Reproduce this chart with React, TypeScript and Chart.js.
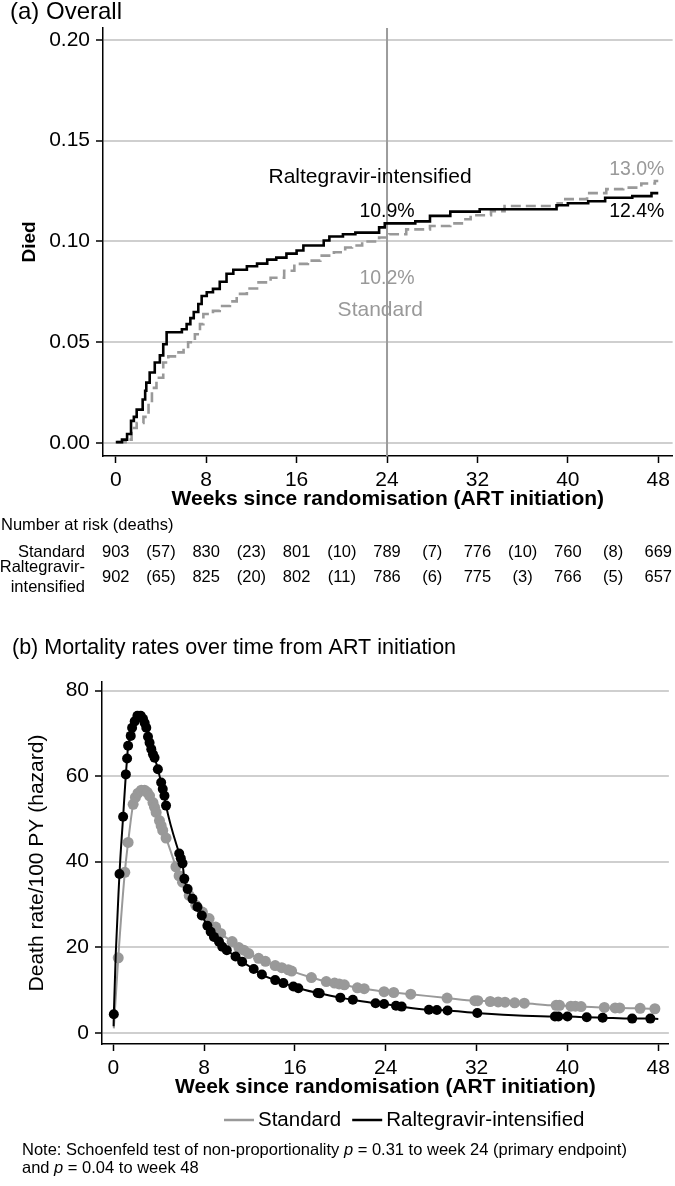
import React, { useEffect, useRef } from "react";
import { Chart, registerables } from "chart.js";

Chart.register(...registerables);

const FONT = "'Liberation Sans', Arial, Helvetica, sans-serif";
Chart.defaults.font.family = FONT;

// ---------- (a) Kaplan-Meier cumulative mortality ----------
const ralKmWeeks = [0, 0.55, 1.0, 1.35, 1.6, 1.85, 2.38, 2.6, 2.7, 3.0, 3.45, 3.9, 4.2, 4.5, 5.85, 6.27, 6.6, 6.9, 7.3, 7.6, 8.05, 8.6, 9.2, 9.8, 10.4, 11.6, 12.5, 13.4, 14.2, 15.1, 16.0, 16.6, 18.4, 18.9, 20.1, 21.2, 23.3, 23.8, 26.5, 27.8, 29.6, 32.2, 39.0, 40.0, 41.8, 43.3, 45.7, 47.4, 48];
const ralKmDied = [0.0005, 0.0017, 0.0045, 0.011, 0.013, 0.0166, 0.0216, 0.026, 0.03, 0.035, 0.04, 0.0435, 0.049, 0.055, 0.0565, 0.059, 0.062, 0.065, 0.069, 0.073, 0.0748, 0.0765, 0.08, 0.084, 0.086, 0.0877, 0.089, 0.091, 0.092, 0.094, 0.0955, 0.098, 0.1005, 0.1025, 0.1036, 0.1044, 0.107, 0.109, 0.11, 0.1127, 0.1148, 0.116, 0.118, 0.119, 0.12, 0.1217, 0.1225, 0.124, 0.124];
const stdKmWeeks = [0.1, 1.0, 1.4, 1.85, 2.45, 2.9, 3.2, 3.6, 4.2, 4.65, 5.4, 6.0, 6.4, 7.0, 7.45, 7.75, 8.6, 9.2, 10.1, 10.7, 11.6, 12.5, 13.7, 14.9, 15.8, 17.0, 18.1, 19.3, 20.3, 20.9, 21.8, 23.3, 24.2, 25.7, 27.8, 29.6, 30.8, 31.4, 33.2, 34.4, 39.1, 39.6, 41.7, 43.4, 44.9, 46.5, 47.7, 48];
const stdKmDied = [0.0005, 0.0017, 0.0075, 0.01, 0.013, 0.02, 0.0274, 0.0324, 0.04, 0.043, 0.045, 0.047, 0.05, 0.054, 0.059, 0.064, 0.0656, 0.068, 0.0703, 0.074, 0.0767, 0.0797, 0.082, 0.0855, 0.0889, 0.0905, 0.093, 0.0947, 0.097, 0.098, 0.1, 0.102, 0.1036, 0.106, 0.1077, 0.109, 0.111, 0.113, 0.115, 0.1176, 0.119, 0.121, 0.124, 0.126, 0.1267, 0.1288, 0.13, 0.13];
const kmYTicks = [0, 0.05, 0.1, 0.15, 0.2];
const weekTicks = [0, 8, 16, 24, 32, 40, 48];
const primaryEndpointWeek = 24;

// ---------- Number at risk table ----------
const riskWeeks = [0, 8, 16, 24, 32, 40, 48];
const stdAtRisk = [903, 830, 801, 789, 776, 760, 669];
const stdDeaths = [57, 23, 10, 7, 10, 8];
const ralAtRisk = [902, 825, 802, 786, 775, 766, 657];
const ralDeaths = [65, 20, 11, 6, 3, 5];

// ---------- (b) hazard (death rate / 100 PY) ----------
const stdHazWeeks = [0.44, 1.02, 1.31, 1.75, 1.95, 2.18, 2.47, 2.76, 3.0, 3.2, 3.5, 3.64, 3.78, 4.07, 4.22, 4.36, 4.65, 5.52, 5.8, 6.1, 6.69, 7.27, 7.85, 8.44, 9.02, 9.46, 10.47, 11.06, 11.5, 11.93, 12.8, 13.4, 14.26, 14.84, 15.42, 15.71, 17.45, 18.76, 19.49, 19.9, 20.35, 21.5, 22.1, 23.85, 24.7, 26.2, 29.4, 31.85, 32.1, 33.2, 33.9, 34.5, 35.35, 36.2, 39.0, 39.3, 40.3, 40.7, 41.2, 43.25, 44.2, 44.6, 46.4, 47.7];
const stdHazRates = [17.5, 37.5, 44.5, 53.4, 55.0, 56.0, 56.7, 56.7, 56.2, 55.4, 53.8, 52.7, 51.5, 49.6, 48.4, 47.3, 45.5, 38.8, 36.7, 35.2, 32.1, 29.8, 28.2, 26.7, 24.7, 23.2, 21.3, 19.9, 19.3, 18.5, 17.4, 16.7, 15.7, 15.2, 14.7, 14.4, 12.9, 11.95, 11.6, 11.4, 11.2, 10.5, 10.3, 9.6, 9.4, 9.0, 8.1, 7.5, 7.5, 7.3, 7.2, 7.15, 7.0, 6.9, 6.4, 6.4, 6.2, 6.2, 6.1, 5.9, 5.8, 5.8, 5.7, 5.6];
const ralHazWeeks = [0.05, 0.55, 0.87, 1.11, 1.22, 1.31, 1.54, 1.66, 1.89, 2.13, 2.42, 2.62, 2.77, 2.91, 3.06, 3.2, 3.35, 3.5, 3.64, 3.93, 4.22, 4.36, 4.51, 4.65, 5.81, 5.95, 6.1, 6.26, 6.55, 6.98, 7.42, 7.8, 8.29, 8.58, 8.87, 9.31, 9.6, 10.0, 10.77, 11.35, 12.37, 13.09, 14.26, 14.98, 15.86, 16.3, 18.0, 18.18, 20.0, 21.1, 23.1, 23.85, 24.9, 25.4, 27.8, 28.5, 29.44, 32.06, 38.9, 39.2, 40.0, 41.7, 43.1, 45.7, 47.3];
const ralHazRates = [4.3, 37.1, 50.5, 60.4, 64.1, 67.1, 69.4, 71.3, 72.8, 74.1, 74.1, 73.4, 72.4, 71.3, 69.2, 67.8, 66.3, 65.1, 64.3, 61.6, 58.5, 57.0, 55.4, 53.1, 41.9, 40.8, 39.6, 36.0, 33.6, 31.3, 29.4, 27.4, 25.0, 23.6, 22.4, 21.3, 20.1, 19.3, 17.8, 16.6, 14.9, 13.6, 12.3, 11.6, 10.8, 10.4, 9.3, 9.2, 8.2, 7.7, 6.9, 6.7, 6.3, 6.1, 5.35, 5.3, 5.2, 4.6, 3.8, 3.8, 3.8, 3.6, 3.5, 3.3, 3.3];
// smoothed curve end-points (no marker drawn): [start, end]
const stdLineEndWeeks = [0.05, 48];
const stdLineEndRates = [1.0, 5.55];
const ralLineEndWeeks = [0.03, 48];
const ralLineEndRates = [1.5, 3.2];
const hazYTicks = [0, 20, 40, 60, 80];

// ---------- styles ----------
const BLACK = "#000000";
const GRAY = "#999999";
const GRID = "#cfcfcf";
const REF_LINE = "#9c9c9c";

function stepValueAt(weeks: number[], vals: number[], t: number) {
  let v = 0;
  for (let i = 0; i < weeks.length; i++) if (weeks[i] <= t) v = vals[i];
  return v;
}
const pct = (v: number) => (v * 100).toFixed(1) + "%";

const kmLabels = [
  { text: "Raltegravir-intensified", week: 22.5, died: 0.1317, color: BLACK, size: 21 },
  { text: pct(stepValueAt(ralKmWeeks, ralKmDied, primaryEndpointWeek)), week: 24, died: 0.1149, color: BLACK, size: 19.5 },
  { text: pct(stepValueAt(stdKmWeeks, stdKmDied, 48)), week: 46.1, died: 0.1356, color: GRAY, size: 19.5 },
  { text: pct(stepValueAt(ralKmWeeks, ralKmDied, 48)), week: 46.1, died: 0.1149, color: BLACK, size: 19.5 },
  { text: pct(stepValueAt(stdKmWeeks, stdKmDied, primaryEndpointWeek)), week: 24, died: 0.0817, color: GRAY, size: 19.5 },
  { text: "Standard", week: 23.4, died: 0.0658, color: GRAY, size: 21 },
];

const xy = (w: number[], v: number[]) => w.map((x, i) => ({ x, y: v[i] }));

function hazSeries(endW: number[], endR: number[], w: number[], r: number[]) {
  return [{ x: endW[0], y: endR[0] }, ...xy(w, r), { x: endW[1], y: endR[1] }];
}

const kmPlugin = {
  id: "kmDecor",
  beforeDatasetsDraw(chart: any) {
    const { ctx, chartArea, scales } = chart;
    const px = scales.x.getPixelForValue(primaryEndpointWeek);
    ctx.save();
    ctx.strokeStyle = REF_LINE;
    ctx.lineWidth = 2;
    ctx.beginPath();
    ctx.moveTo(px, chartArea.top);
    ctx.lineTo(px, chartArea.bottom);
    ctx.stroke();
    ctx.restore();
  },
  afterDraw(chart: any) {
    const { ctx, scales } = chart;
    const x = scales.x;
    const y = scales.y;
    ctx.save();
    // panel title
    ctx.fillStyle = BLACK;
    ctx.textAlign = "left";
    ctx.textBaseline = "alphabetic";
    ctx.font = `24px ${FONT}`;
    ctx.fillText("(a) Overall", 10, 18.5);
    // annotations
    ctx.textAlign = "center";
    ctx.textBaseline = "middle";
    for (const l of kmLabels) {
      ctx.font = `${l.size}px ${FONT}`;
      ctx.fillStyle = l.color;
      ctx.fillText(l.text, x.getPixelForValue(l.week), y.getPixelForValue(l.died));
    }
    // risk table
    ctx.fillStyle = BLACK;
    ctx.font = `16.5px ${FONT}`;
    ctx.textAlign = "left";
    ctx.fillText("Number at risk (deaths)", 1, 525);
    ctx.textAlign = "right";
    ctx.fillText("Standard", 85, 552);
    ctx.fillText("Raltegravir-", 85, 567);
    ctx.fillText("intensified", 85, 587);
    ctx.textAlign = "center";
    const rows = [
      { atRisk: stdAtRisk, deaths: stdDeaths, yy: 552 },
      { atRisk: ralAtRisk, deaths: ralDeaths, yy: 577 },
    ];
    for (const r of rows) {
      riskWeeks.forEach((w, i) => {
        ctx.fillText(String(r.atRisk[i]), x.getPixelForValue(w), r.yy);
        if (i < riskWeeks.length - 1) {
          const mid = (w + riskWeeks[i + 1]) / 2;
          ctx.fillText(`(${r.deaths[i]})`, x.getPixelForValue(mid), r.yy);
        }
      });
    }
    ctx.restore();
  },
};

const hazPlugin = {
  id: "hazDecor",
  afterDraw(chart: any) {
    const { ctx } = chart;
    ctx.save();
    ctx.fillStyle = BLACK;
    ctx.textAlign = "left";
    ctx.textBaseline = "alphabetic";
    ctx.font = `21.5px ${FONT}`;
    ctx.fillText("(b) Mortality rates over time from ART initiation", 12, 44);
    // legend
    const ly = 510;
    let lx = 224;
    ctx.textBaseline = "middle";
    ctx.font = `20.5px ${FONT}`;
    chart.data.datasets.forEach((ds: any) => {
      ctx.strokeStyle = ds.borderColor;
      ctx.lineWidth = 2.5;
      ctx.beginPath();
      ctx.moveTo(lx, ly);
      ctx.lineTo(lx + 30, ly);
      ctx.stroke();
      ctx.fillStyle = BLACK;
      ctx.fillText(ds.label, lx + 34, ly);
      lx += 34 + ctx.measureText(ds.label).width + 11;
    });
    // note
    const drawRich = (parts: [string, boolean][], x0: number, yy: number) => {
      let cx = x0;
      for (const [t, it] of parts) {
        ctx.font = `${it ? "italic " : ""}16.5px ${FONT}`;
        ctx.fillText(t, cx, yy);
        cx += ctx.measureText(t).width;
      }
    };
    ctx.fillStyle = BLACK;
    drawRich([["Note: Schoenfeld test of non-proportionality ", false], ["p", true], [" = 0.31 to week 24 (primary endpoint)", false]], 22, 540);
    drawRich([["and ", false], ["p", true], [" = 0.04 to week 48", false]], 22, 558);
    ctx.restore();
  },
};

function axisCommon(tickVals: number[], fmt: (v: number) => string) {
  return {
    afterBuildTicks: (s: any) => {
      s.ticks = tickVals.map((v) => ({ value: v }));
    },
    ticks: {
      font: { family: FONT, size: 21 },
      color: BLACK,
      autoSkip: false,
      maxRotation: 0,
      callback: (v: any) => fmt(Number(v)),
    },
    border: { display: true, color: BLACK, width: 1.5 },
  };
}

export default function App() {
  const refA = useRef<HTMLCanvasElement>(null);
  const refB = useRef<HTMLCanvasElement>(null);

  useEffect(() => {
    const chartA = new Chart(refA.current as HTMLCanvasElement, {
      type: "line",
      data: {
        datasets: [
          {
            label: "Raltegravir-intensified",
            data: xy(ralKmWeeks, ralKmDied),
            borderColor: BLACK,
            borderWidth: 2.6,
            stepped: "before",
            pointRadius: 0,
            fill: false,
          },
          {
            label: "Standard",
            data: xy(stdKmWeeks, stdKmDied),
            borderColor: GRAY,
            borderWidth: 2.6,
            borderDash: [10, 5],
            stepped: "before",
            pointRadius: 0,
            fill: false,
          },
        ],
      },
      options: {
        animation: false,
        responsive: false,
        maintainAspectRatio: false,
        layout: { padding: { top: 28, right: 2, bottom: 98, left: 0 } },
        plugins: { legend: { display: false }, tooltip: { enabled: false }, title: { display: false } },
        scales: {
          x: {
            type: "linear",
            min: -1.13,
            max: 49.27,
            ...axisCommon(weekTicks, (v) => String(v)),
            afterFit: (s: any) => {
              s.height = 56;
            },
            grid: { drawOnChartArea: false, drawTicks: true, tickLength: 7, tickColor: BLACK, tickWidth: 1.5 },
            title: {
              display: true,
              text: "Weeks since randomisation (ART initiation)",
              font: { family: FONT, size: 21, weight: "bold" },
              color: BLACK,
              padding: { top: 0, bottom: 0 },
            },
          } as any,
          y: {
            type: "linear",
            min: -0.0064,
            max: 0.2059,
            ...axisCommon(kmYTicks, (v) => v.toFixed(2)),
            afterFit: (s: any) => {
              s.width = 103;
            },
            grid: { color: GRID, lineWidth: 2, drawTicks: true, tickLength: 7, tickColor: BLACK, tickWidth: 1.5 },
            title: {
              display: true,
              text: "Died",
              font: { family: FONT, size: 19, weight: "bold" },
              color: BLACK,
              padding: { top: 18, bottom: 0 },
            },
          } as any,
        },
      },
      plugins: [kmPlugin],
    } as any);
    (chartA.options.scales as any).x.ticks.padding = 5;
    (chartA.options.scales as any).y.ticks.padding = 6;
    chartA.update();

    const chartB = new Chart(refB.current as HTMLCanvasElement, {
      type: "line",
      data: {
        datasets: [
          {
            label: "Standard",
            data: hazSeries(stdLineEndWeeks, stdLineEndRates, stdHazWeeks, stdHazRates),
            borderColor: GRAY,
            backgroundColor: GRAY,
            borderWidth: 2,
            cubicInterpolationMode: "monotone",
            pointRadius: (c: any) => (c.dataIndex === 0 || c.dataIndex === stdHazWeeks.length + 1 ? 0 : 5.5),
            pointBackgroundColor: GRAY,
            pointBorderWidth: 0,
            fill: false,
            order: 1,
          },
          {
            label: "Raltegravir-intensified",
            data: hazSeries(ralLineEndWeeks, ralLineEndRates, ralHazWeeks, ralHazRates),
            borderColor: BLACK,
            backgroundColor: BLACK,
            borderWidth: 2,
            cubicInterpolationMode: "monotone",
            pointRadius: (c: any) => (c.dataIndex === 0 || c.dataIndex === ralHazWeeks.length + 1 ? 0 : 5),
            pointBackgroundColor: BLACK,
            pointBorderWidth: 0,
            fill: false,
            order: 0,
          },
        ],
      },
      options: {
        animation: false,
        responsive: false,
        maintainAspectRatio: false,
        layout: { padding: { top: 72, right: 1, bottom: 86, left: 0 } },
        plugins: { legend: { display: false }, tooltip: { enabled: false }, title: { display: false } },
        scales: {
          x: {
            type: "linear",
            min: -0.99,
            max: 48.93,
            ...axisCommon(weekTicks, (v) => String(v)),
            afterFit: (s: any) => {
              s.height = 56;
            },
            grid: { drawOnChartArea: false, drawTicks: true, tickLength: 7, tickColor: BLACK, tickWidth: 1.5 },
            title: {
              display: true,
              text: "Week since randomisation (ART initiation)",
              font: { family: FONT, size: 21, weight: "bold" },
              color: BLACK,
              padding: { top: 0, bottom: 0 },
            },
          } as any,
          y: {
            type: "linear",
            min: -2.64,
            max: 82.0,
            ...axisCommon(hazYTicks, (v) => String(v)),
            afterFit: (s: any) => {
              s.width = 102;
            },
            grid: { color: GRID, lineWidth: 2, drawTicks: true, tickLength: 7, tickColor: BLACK, tickWidth: 1.5 },
            title: {
              display: true,
              text: "Death rate/100 PY (hazard)",
              font: { family: FONT, size: 21 },
              color: BLACK,
              padding: { top: 25, bottom: 0 },
            },
          } as any,
        },
      },
      plugins: [hazPlugin],
    } as any);
    (chartB.options.scales as any).x.ticks.padding = 5;
    (chartB.options.scales as any).y.ticks.padding = 6;
    chartB.update();

    return () => {
      chartA.destroy();
      chartB.destroy();
    };
  }, []);

  return (
    <div style={{ position: "absolute", left: 0, top: 0, width: 675, height: 1186, background: "#ffffff", overflow: "hidden" }}>
      <canvas ref={refA} width={675} height={610} style={{ position: "absolute", left: 0, top: 0, width: 675, height: 610 }} />
      <canvas ref={refB} width={675} height={576} style={{ position: "absolute", left: 0, top: 610, width: 675, height: 576 }} />
    </div>
  );
}
